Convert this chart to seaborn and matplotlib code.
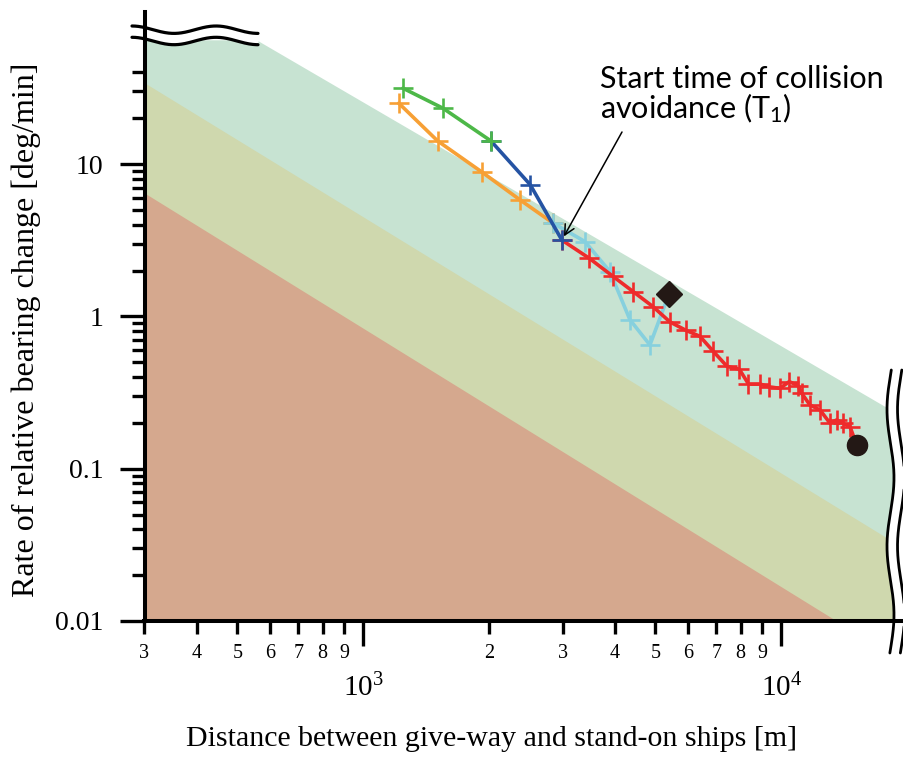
import numpy as np
import pandas as pd
import matplotlib
matplotlib.use("Agg")
import matplotlib.pyplot as plt
from matplotlib.ticker import NullFormatter
import seaborn as sns

# ---------------- data ----------------
# distance between ships [m] / rate of relative bearing change [deg/min]
green_x = [1245, 1551, 2021]
green_y = [31.5, 23.3, 14.2]

blue_x = [2021, 2509, 2988]
blue_y = [14.2, 7.33, 3.17]

orange_x = [1217, 1507, 1923, 2375, 2849]
orange_y = [25.1, 14.2, 8.87, 5.81, 4.09]

cyan_x = [2849, 3392, 3892, 4346, 4852, 5387]
cyan_y = [4.09, 3.10, 1.97, 0.951, 0.649, 1.40]

red_x = [2988, 3473, 3950, 4431, 4933, 5417, 5916, 6391, 6876, 7418, 7938,
         8348, 8892, 9345, 9929, 10450, 10980, 11190, 11710, 12380, 13080,
         13570, 14030, 14600, 15150]
red_y = [3.17, 2.41, 1.84, 1.45, 1.16, 0.92, 0.81, 0.74, 0.59, 0.47, 0.45,
         0.36, 0.36, 0.345, 0.337, 0.373, 0.351, 0.313, 0.262, 0.243, 0.199,
         0.209, 0.199, 0.189, 0.143]

diamond_x = [5387]
diamond_y = [1.40]
circle_x = [15150]
circle_y = [0.143]

# risk zone boundaries
zone_x = [300, 19660]
green_zone_x = [300, 557, 19660]
green_zone_top = [65, 65, 0.216]
olive_zone_top = [34.1, 0.0299]
brown_zone_top = [6.46, 0.00533]

# axis ticks
x_major = [1e3, 1e4]
x_major_labels = [r"$10^{3}$", r"$10^{4}$"]
x_minor = [300, 400, 500, 600, 700, 800, 900,
           2000, 3000, 4000, 5000, 6000, 7000, 8000, 9000]
x_minor_labels = ["3", "4", "5", "6", "7", "8", "9",
                  "2", "3", "4", "5", "6", "7", "8", "9"]
y_major = [0.01, 0.1, 1, 10]
y_major_labels = ["0.01", "0.1", "1", "10"]
y_minor = [m * d for d in (0.01, 0.1, 1) for m in range(2, 10)] + [20, 30, 40]

# ---------------- style ----------------
sns.set_style("ticks")
plt.rcParams["font.family"] = ["Liberation Serif", "DejaVu Serif"]
plt.rcParams["mathtext.default"] = "regular"
plt.rcParams["axes.edgecolor"] = "black"
plt.rcParams["xtick.color"] = "black"
plt.rcParams["ytick.color"] = "black"
plt.rcParams["text.color"] = "black"

W, H = 904, 757
fig = plt.figure(figsize=(W / 100, H / 100), dpi=100)


def fx(px):
    return px / W


def fy(py):
    return 1 - py / H


ax = fig.add_axes([fx(144.5), fy(621), fx(904) - fx(144.5), fy(11.8) - fy(621)])
ax.set_xscale("log")
ax.set_yscale("log")
ax.set_xlim(300, 19660)
ax.set_ylim(0.01, 100)

# zones
ax.fill_between(green_zone_x, 1e-4, green_zone_top, color="#c7e3d2", lw=0, zorder=0.5)
ax.fill_between(zone_x, 1e-4, olive_zone_top, color="#cfd8ae", lw=0, zorder=0.6)
ax.fill_between(zone_x, 1e-4, brown_zone_top, color="#d5a88e", lw=0, zorder=0.7)

# trajectories
series = [
    (orange_x, orange_y, "#f7a035", 3.0),
    (cyan_x, cyan_y, "#86d0de", 3.1),
    (red_x, red_y, "#ee2b2b", 3.2),
    (blue_x, blue_y, "#2553a3", 3.3),
    (green_x, green_y, "#4db848", 3.4),
]
for xs, ys, col, z in series:
    df = pd.DataFrame({"d": xs, "r": ys})
    sns.lineplot(data=df, x="d", y="r", ax=ax, color=col, zorder=z,
                 marker="+", markersize=14.4, markeredgewidth=1.9,
                 markeredgecolor=col, markerfacecolor=col, linewidth=2.6,
                 sort=False, estimator=None, legend=False)

ax.plot(diamond_x, diamond_y, marker="D", markersize=13.5, color="#231815",
        linestyle="none", zorder=4)
ax.plot(circle_x, circle_y, marker="o", markersize=14.5, color="#231815",
        linestyle="none", zorder=4)

# ticks and spines
ax.set_xticks(x_major)
ax.set_xticklabels(x_major_labels)
ax.set_xticks(x_minor, minor=True)
ax.set_xticklabels(x_minor_labels, minor=True)
ax.set_yticks(y_major)
ax.set_yticklabels(y_major_labels)
ax.set_yticks(y_minor, minor=True)
ax.yaxis.set_minor_formatter(NullFormatter())

ax.tick_params(axis="x", which="major", direction="out", length=18, width=2.4,
               pad=20, labelsize=21)
ax.tick_params(axis="x", which="minor", direction="out", length=9.4, width=2.4,
               pad=7, labelsize=14.5)
ax.tick_params(axis="y", which="major", direction="out", length=18, width=2.4,
               pad=11.5, labelsize=20)
ax.tick_params(axis="y", which="minor", direction="out", length=9.4, width=2.4)

for side in ("top", "right"):
    ax.spines[side].set_visible(False)
for side in ("left", "bottom"):
    ax.spines[side].set_linewidth(2.9)
ax.set_xlabel("")
ax.set_ylabel("")

fig.text(fx(492), fy(745.5), "Distance between give-way and stand-on ships [m]",
         ha="center", va="baseline", fontsize=21.5)
fig.text(fx(26), fy(330), "Rate of relative bearing change [deg/min]",
         ha="center", va="center", rotation=90, fontsize=23)

# axis breaks
tf = fig.transFigure
xb = np.linspace(132, 258, 200)
wave_top = 29.7 - 3.7 * np.cos(np.pi * (xb - 132) / 42)
wave_bot = wave_top + 11.3
ax.fill_between(fx(xb), fy(wave_top), fy(wave_bot), color="white", lw=0,
                transform=tf, clip_on=False, zorder=2.2)
ax.plot(fx(xb), fy(wave_top), color="black", lw=2.3, transform=tf,
        clip_on=False, zorder=5)
ax.plot(fx(xb), fy(wave_bot), color="black", lw=2.3, transform=tf,
        clip_on=False, zorder=5)

yb = np.linspace(370, 653, 300)
wave_l = 890.5 - 3.5 * np.sin(2 * np.pi * (yb - 375) / 137)
wave_r = wave_l + 10.5
ax.fill_betweenx(fy(yb), fx(wave_l), fx(912), color="white", lw=0,
                 transform=tf, clip_on=False, zorder=2.2)
ax.plot(fx(wave_l), fy(yb), color="black", lw=2.0, transform=tf,
        clip_on=False, zorder=5)
ax.plot(fx(wave_r), fy(yb), color="black", lw=2.0, transform=tf,
        clip_on=False, zorder=5)

# annotation
sans = ["Lato", "DejaVu Sans"]
fig.text(fx(600), fy(88.3), "Start time of collision", family=sans,
         fontsize=22, ha="left", va="baseline")
fig.text(fx(600), fy(118.3), "avoidance (T$_{1}$)", family=sans,
         fontsize=22, ha="left", va="baseline")
ax.annotate("", xy=(red_x[0], red_y[0]), xycoords="data",
            xytext=(fx(622), fy(132)), textcoords="figure fraction",
            arrowprops=dict(arrowstyle="->", lw=1.1, color="black",
                            shrinkA=0, shrinkB=3, mutation_scale=18),
            zorder=6)

fig.savefig("out.png", dpi=100)
